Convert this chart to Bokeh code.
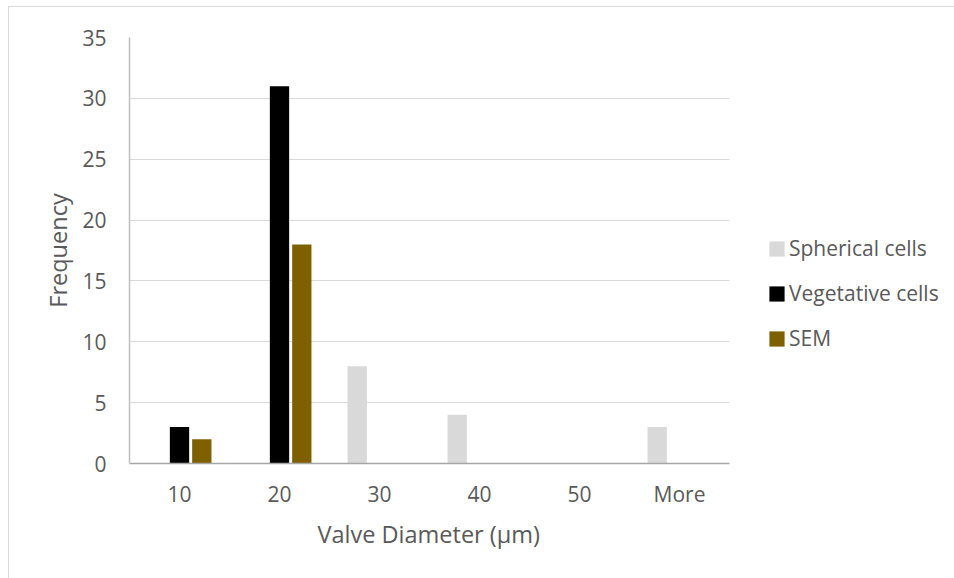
from bokeh.plotting import figure
from bokeh.models import ColumnDataSource, Range1d, Legend, LegendItem, FixedTicker, Title
from bokeh.transform import dodge
from bokeh.embed import file_html
from bokeh.resources import INLINE

# Histogram bins and counts per series
bins = ["10", "20", "30", "40", "50", "More"]
spherical = [0, 0, 8, 4, 0, 3]
vegetative = [3, 31, 0, 0, 0, 0]
sem = [2, 18, 0, 0, 0, 0]

series_names = ["Spherical cells", "Vegetative cells", "SEM"]
series_colors = ["#d9d9d9", "#000000", "#7f6000"]

# bin centres on a numeric axis so the legend can sit to the right of the bars
centers = [i + 0.5 for i in range(len(bins))]
n_bins = len(bins)

source = ColumnDataSource(dict(x=centers, spherical=spherical,
                               vegetative=vegetative, sem=sem))

FONT = "Open Sans"
TXT = "#595959"

p = figure(frame_width=825, frame_height=426,
           x_range=Range1d(0, 8.25), y_range=Range1d(0, 35),
           output_backend="svg", toolbar_location=None,
           min_border_left=120, min_border_right=0,
           min_border_top=30, min_border_bottom=115)

# Light chart-area border on the top and left edges
p.styles = {"margin-left": "8px", "margin-top": "6px",
            "border-top": "1px solid #d9d9d9", "border-left": "1px solid #d9d9d9"}

bar_w = 0.193
offset = 0.223
cols = ["spherical", "vegetative", "sem"]
renderers = []
for i, (col, color) in enumerate(zip(cols, series_colors)):
    r = p.vbar(x=dodge("x", (i - 1) * offset), top=col,
               width=bar_w, source=source, fill_color=color, line_color=None)
    renderers.append(r)

# Frame and grid styling
p.outline_line_color = None
p.xgrid.grid_line_color = None
p.ygrid.grid_line_color = "#d9d9d9"
p.ygrid.grid_line_width = 1
p.ygrid.cross_bounds = (0, n_bins)
p.yaxis.ticker = FixedTicker(ticks=[0, 5, 10, 15, 20, 25, 30, 35])
p.xaxis.ticker = FixedTicker(ticks=centers)
p.xaxis.major_label_overrides = {c: b for c, b in zip(centers, bins)}
p.xaxis.bounds = (0, n_bins)

p.xaxis.axis_line_color = "#a6a6a6"
p.xaxis.axis_line_width = 1.5
p.yaxis.axis_line_color = "#bfbfbf"
p.yaxis.axis_line_width = 1.5
for ax in (p.xaxis, p.yaxis):
    ax.major_tick_line_color = None
    ax.minor_tick_line_color = None
    ax.major_label_text_font = FONT
    ax.major_label_text_font_size = "21px"
    ax.major_label_text_color = TXT
    ax.axis_label_text_font = FONT
    ax.axis_label_text_font_size = "23.5px"
    ax.axis_label_text_color = TXT
    ax.axis_label_text_font_style = "normal"

p.yaxis.axis_label = "Frequency"
p.xaxis.major_label_standoff = 10
p.yaxis.major_label_standoff = 17
p.yaxis.axis_label_standoff = 5

# x-axis title, centred under the bars rather than under the whole frame
p.add_layout(Title(text="Valve Diameter (µm)", align="left", offset=188,
                   vertical_align="top", standoff=14,
                   text_font=FONT, text_font_size="23.5px",
                   text_font_style="normal", text_color=TXT), "below")

legend = Legend(items=[LegendItem(label=n, renderers=[r])
                       for n, r in zip(series_names, renderers)],
                location=(638, 111), orientation="vertical",
                glyph_width=19, glyph_height=19, label_height=15,
                spacing=17, padding=0, margin=0, label_standoff=3,
                label_text_font=FONT, label_text_font_size="21px",
                label_text_color=TXT, border_line_color=None,
                background_fill_alpha=0)
p.add_layout(legend)

open("out.html", "w").write(file_html(p, INLINE))
